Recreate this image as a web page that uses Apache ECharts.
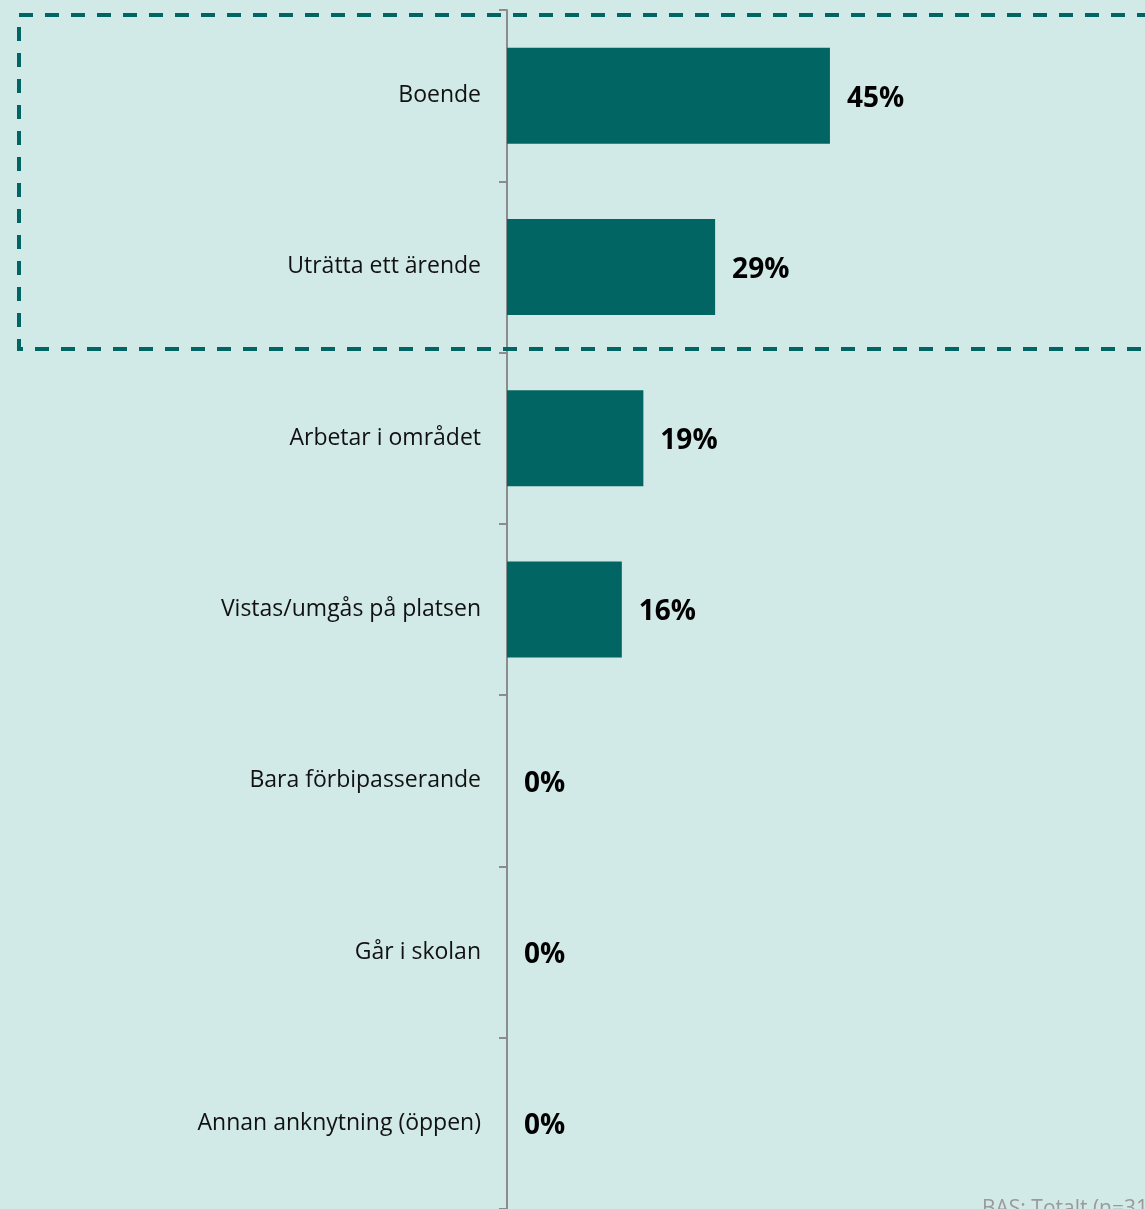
<!DOCTYPE html>
<html><head><meta charset="utf-8">
<script src="https://cdn.jsdelivr.net/npm/echarts@6/dist/echarts.min.js"></script>
<style>html,body{margin:0;padding:0;background:#D1EAE7;}#c{width:1145px;height:1209px;}</style>
</head><body><div id="c"></div>
<script>
const categories = ["Boende", "Uträtta ett ärende", "Arbetar i området", "Vistas/umgås på platsen", "Bara förbipasserande", "Går i skolan", "Annan anknytning (öppen)"];
const values = [45, 29, 19, 16, 0, 0, 0];
const footnote = "BAS: Totalt (n=31)";

const chart = echarts.init(document.getElementById('c'), null, {renderer: 'canvas'});
chart.setOption({
  backgroundColor: '#D1EAE7',
  animation: false,
  grid: {left: 507, top: 10, right: 0, bottom: 0},
  xAxis: {type: 'value', min: 0, max: 88.9, show: false},
  yAxis: {
    type: 'category', data: categories, inverse: true,
    axisLine: {show: true, lineStyle: {color: '#8C8C8C', width: 2}},
    axisTick: {show: true, length: 8, lineStyle: {color: '#8C8C8C', width: 2}},
    axisLabel: {margin: 26, color: '#111', fontFamily: 'Open Sans', fontSize: 23, padding: [8, 0, 0, 0]}
  },
  series: [{
    type: 'bar', data: values, barWidth: 96,
    itemStyle: {color: '#016663'},
    label: {show: true, position: 'right', distance: 17, formatter: '{c}%', offset: [0, 3],
      color: '#000', fontFamily: 'Open Sans', fontWeight: 'bold', fontSize: 28}
  }],
  graphic: [
    {type: 'rect', z: 100, shape: {x: 19, y: 15, width: 1200, height: 334},
      style: {fill: 'none', stroke: '#016663', lineWidth: 4, lineDash: [14, 12]}},
    {type: 'text', z: 100, left: 982, top: 1199,
      style: {text: footnote, fill: '#9A9A9A', font: '21px "Open Sans"'}}
  ]
});
</script></body></html>
